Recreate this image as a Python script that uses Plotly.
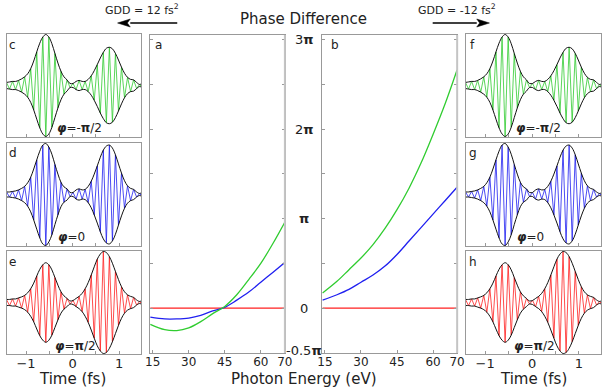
import plotly.graph_objects as go

# photon energy samples (eV) and phase difference (units of pi)
energy = [14, 20, 25, 30, 35, 40, 45, 50, 55, 60, 65, 70]
phase_a_green = [-0.18, -0.24, -0.25, -0.22, -0.15, -0.06, 0.02, 0.15, 0.32, 0.50, 0.72, 0.96]
phase_a_blue = [-0.10, -0.12, -0.12, -0.11, -0.08, -0.03, 0.01, 0.09, 0.18, 0.29, 0.40, 0.51]
phase_b_green = [0.17, 0.30, 0.43, 0.56, 0.71, 0.89, 1.10, 1.34, 1.62, 1.94, 2.28, 2.66]
phase_b_blue = [0.09, 0.15, 0.21, 0.29, 0.37, 0.47, 0.60, 0.75, 0.90, 1.05, 1.20, 1.35]
phase_red = [0, 0, 0, 0, 0, 0, 0, 0, 0, 0, 0, 0]

energy_ticks = [15, 30, 45, 60, 70]
phase_ticks = [-0.5, 0, 0.5, 1, 1.5, 2, 2.5, 3]
phase_labels = {3: "3<b>π</b>", 2: "2<b>π</b>", 1: "<b>π</b>", 0: "0", -0.5: "-0.5<b>π</b>"}

# time samples (fs), one per carrier half cycle, and envelope
time_fs = [-1.42, -1.355, -1.29, -1.225, -1.16, -1.095, -1.03, -0.965, -0.90, -0.835,
           -0.77, -0.705, -0.64, -0.575, -0.51, -0.445, -0.38, -0.315, -0.25, -0.185,
           -0.12, -0.055, 0.01, 0.075, 0.14, 0.205, 0.27, 0.335, 0.40, 0.465,
           0.53, 0.595, 0.66, 0.725, 0.79, 0.855, 0.92, 0.985, 1.05, 1.115,
           1.18, 1.245, 1.31, 1.375, 1.44, 1.505]
env_green = [0.06, 0.07, 0.08, 0.08, 0.10, 0.13, 0.17, 0.23, 0.33, 0.48,
             0.66, 0.83, 0.95, 1.00, 0.95, 0.82, 0.63, 0.44, 0.28, 0.17,
             0.11, 0.04, 0.04, 0.08, 0.10, 0.08, 0.08, 0.12, 0.19, 0.29,
             0.41, 0.54, 0.65, 0.73, 0.75, 0.72, 0.63, 0.50, 0.36, 0.24,
             0.16, 0.12, 0.11, 0.06, 0.02, 0.05]
env_blue = [0.05, 0.05, 0.06, 0.07, 0.09, 0.12, 0.16, 0.23, 0.34, 0.50,
            0.68, 0.85, 0.97, 1.00, 0.93, 0.79, 0.59, 0.40, 0.24, 0.15,
            0.11, 0.04, 0.04, 0.09, 0.11, 0.09, 0.10, 0.16, 0.26, 0.40,
            0.56, 0.73, 0.87, 0.95, 0.97, 0.91, 0.78, 0.60, 0.42, 0.27,
            0.17, 0.12, 0.10, 0.05, 0.02, 0.05]
env_red = [0.06, 0.06, 0.07, 0.07, 0.09, 0.11, 0.14, 0.19, 0.27, 0.38,
           0.52, 0.65, 0.74, 0.78, 0.74, 0.64, 0.49, 0.34, 0.21, 0.13,
           0.08, 0.03, 0.04, 0.08, 0.12, 0.18, 0.27, 0.39, 0.54, 0.70,
           0.85, 0.95, 1.00, 0.98, 0.90, 0.77, 0.61, 0.45, 0.31, 0.21,
           0.15, 0.12, 0.10, 0.05, 0.02, 0.05]
time_ticks = [-1, 0, 1]

GREEN = "#30cc30"
BLUE = "#2020f0"
RED = "#ff2020"
FRAME = "#999999"
TXT = "#222222"
FONT = "DejaVu Sans"

W, H = 610, 388


def px(x):
    return x / W


def py(y):
    return 1 - y / H


def ax_name(n):
    return "" if n == 1 else str(n)


fig = go.Figure()

# pulse panels: n, x-span, y-span, colour, envelope, show time labels
pulse_panels = [
    (1, (2, 139), (34, 137), GREEN, env_green, False),
    (2, (2, 139), (143, 246), BLUE, env_blue, False),
    (3, (2, 139), (251, 354), RED, env_red, True),
    (6, (471, 609), (34, 137), GREEN, env_green, False),
    (7, (471, 609), (143, 246), BLUE, env_blue, False),
    (8, (471, 609), (251, 354), RED, env_red, True),
]

for n, (x0, x1), (y0, y1), color, env, labels in pulse_panels:
    s = ax_name(n)
    carrier = [v if i % 2 == 0 else -v for i, v in enumerate(env)]
    fig.add_trace(go.Scatter(x=time_fs, y=carrier, mode="lines",
                             line=dict(color=color, width=0.8),
                             xaxis="x" + s, yaxis="y" + s, hoverinfo="skip"))
    for sign in (1, -1):
        fig.add_trace(go.Scatter(x=time_fs, y=[sign * v for v in env], mode="lines",
                                 line=dict(color="#111111", width=1, shape="spline"),
                                 xaxis="x" + s, yaxis="y" + s, hoverinfo="skip"))
    fig.layout["xaxis" + s] = dict(
        domain=[px(x0), px(x1)], range=[-1.41, 1.47], anchor="y" + s,
        showgrid=False, zeroline=False, showline=True, mirror=True,
        linecolor=FRAME, linewidth=1, ticks="inside", ticklen=3, tickcolor=FRAME,
        tickvals=time_ticks, showticklabels=labels, ticklabelstandoff=-3,
        minor=dict(ticks="inside", dtick=0.5, tick0=0, ticklen=3, tickcolor=FRAME),
        tickfont=dict(size=13, color=TXT, family=FONT),
    )
    fig.layout["yaxis" + s] = dict(
        domain=[py(y1), py(y0)], range=[-1.01, 1.01], anchor="x" + s,
        showgrid=False, zeroline=False, showline=True, mirror=True,
        linecolor=FRAME, linewidth=1, showticklabels=False, ticks="",
    )

# phase panels a (4) and b (5)
phase_panels = [
    (4, (148, 286), phase_a_green, phase_a_blue),
    (5, (324, 462), phase_b_green, phase_b_blue),
]
for n, (x0, x1), g, b in phase_panels:
    s = ax_name(n)
    for ys, color in ((phase_red, RED), (b, BLUE), (g, GREEN)):
        fig.add_trace(go.Scatter(x=energy, y=ys, mode="lines",
                                 line=dict(color=color, width=1.3, shape="spline"),
                                 xaxis="x" + s, yaxis="y" + s, hoverinfo="skip"))
    fig.layout["xaxis" + s] = dict(
        domain=[px(x0), px(x1)], range=[13.8, 70.05], anchor="y" + s,
        showgrid=False, zeroline=False, showline=True, mirror=True,
        linecolor=FRAME, linewidth=1, ticks="inside", ticklen=3, tickcolor=FRAME,
        tickvals=energy_ticks, ticklabelstandoff=-2,
        tickfont=dict(size=12, color=TXT, family=FONT),
    )
    fig.layout["yaxis" + s] = dict(
        domain=[py(353), py(35)], range=[-0.5, 3.05], anchor="x" + s,
        showgrid=False, zeroline=False, showline=True, mirror="ticks",
        linecolor=FRAME, linewidth=1, ticks="inside", ticklen=3, tickcolor=FRAME,
        tickvals=phase_ticks, showticklabels=False,
    )
    fig.add_shape(type="line", xref="paper", yref="paper",
                  x0=px(x1), x1=px(x1), y0=py(353), y1=py(35),
                  line=dict(color="#c4c4c4", width=2))

ann = []
# shared phase labels between a and b
for v, t in phase_labels.items():
    ann.append(dict(x=px(306), y=v, xref="paper", yref="y4", text=t, showarrow=False,
                    xanchor="center", yanchor="middle", yshift=3 if v < 0 else 0,
                    font=dict(size=13, color=TXT, family=FONT)))


def text(x, y, t, size, **kw):
    ann.append(dict(x=px(x), y=py(y), xref="paper", yref="paper", text=t,
                    showarrow=False, xanchor="center", yanchor="middle",
                    font=dict(size=size, color=TXT, family=FONT), **kw))


text(305, 19, "Phase Difference", 15)
text(305, 379, "Photon Energy (eV)", 15)
text(69, 379, "Time (fs)", 15)
text(540, 379, "Time (fs)", 15)
text(140, 9, "GDD = 12 fs<sup>2</sup>", 11)
text(462, 9, "GDD = -12 fs<sup>2</sup>", 11)

for x, y, t in [(8, 45, "c"), (8, 153, "d"), (8, 262, "e"), (157, 45, "a"),
                (337, 45, "b"), (478, 45, "f"), (478, 153, "g"), (478, 262, "h")]:
    text(x, y, t, 12)

for x, y, t in [(76, 128, "<b><i>φ</i></b>=-<b>π</b>/2"), (68, 237, "<b><i>φ</i></b>=0"),
                (72, 346, "<b><i>φ</i></b>=<b>π</b>/2"), (545, 128, "<b><i>φ</i></b>=-<b>π</b>/2"),
                (537, 237, "<b><i>φ</i></b>=0"), (541, 346, "<b><i>φ</i></b>=<b>π</b>/2")]:
    text(x, y, t, 12)

# GDD arrows: shaft plus filled head
for tip, tail in [(115, 176), (495, 437)]:
    d = 1 if tail > tip else -1
    base = tip + d * 13
    fig.add_shape(type="line", xref="paper", yref="paper",
                  x0=px(tail), x1=px(base), y0=py(23), y1=py(23),
                  line=dict(color="black", width=1.6))
    fig.add_shape(type="path", xref="paper", yref="paper",
                  path=f"M {px(tip)},{py(23)} L {px(base)},{py(19)} "
                       f"L {px(base - d * 3)},{py(23)} L {px(base)},{py(27)} Z",
                  fillcolor="black", line=dict(color="black", width=0.5))

fig.update_layout(
    width=W, height=H, margin=dict(l=0, r=0, t=0, b=0),
    paper_bgcolor="white", plot_bgcolor="white", showlegend=False,
    annotations=ann, font=dict(family=FONT, color=TXT),
)

fig.write_html("out.html", config={"displayModeBar": False},
               post_script="document.body.style.margin='0';"
                           "document.body.style.overflow='hidden';")
